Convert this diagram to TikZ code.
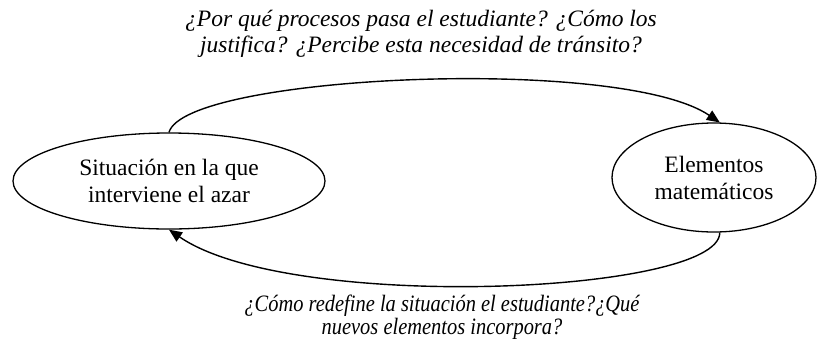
\documentclass[tikz,border=0pt]{standalone}
\usepackage{fontspec}
\setmainfont{Liberation Serif}
\usetikzlibrary{shapes.geometric,arrows.meta}
\begin{document}
\begin{tikzpicture}[x=1pt,y=-1pt,
  oval/.style={draw,ellipse,line width=1.3pt,inner sep=0pt,align=center,font=\fontsize{23.5}{27}\selectfont},
  conn/.style={line width=1.4pt,-{Triangle[length=13pt,width=11pt]}},
  quest/.style={align=center,font=\fontsize{23.5}{25.5}\selectfont\itshape}]
\useasboundingbox (0,0) rectangle (817,349);
\node[oval,minimum width=312pt,minimum height=96pt] (sit) at (169,181) {Situación en la que\\interviene el azar};
\node[oval,minimum width=204pt,minimum height=109pt] (elem) at (714,177.5) {Elementos\\matemáticos};
\draw[conn] (sit.north) .. controls (185,75) and (620,55) .. (elem.84);
\draw[conn] (elem.-84) .. controls (720,294) and (290,313) .. (sit.south);
\node[quest,anchor=base] (q1) at (421,52) {¿Por qué procesos pasa el estudiante? ¿Cómo los\\justifica? ¿Percibe esta necesidad de tránsito?};
\node[quest,anchor=base,font=\fontsize{23.5}{23}\selectfont\itshape,xscale=0.87,transform shape] (q2) at (442,334) {¿Cómo redefine la situación el estudiante?¿Qué\\nuevos elementos incorpora?};
\end{tikzpicture}
\end{document}
